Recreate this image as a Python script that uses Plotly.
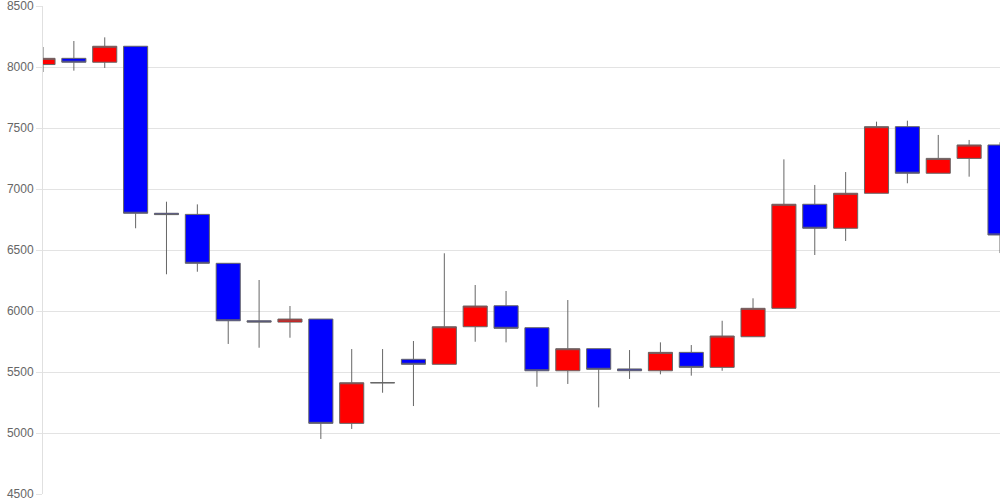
import plotly.graph_objects as go

idx = list(range(32))
opens = [8020, 8071, 8039, 8170, 6801, 6792, 6391, 5920, 5909, 5934, 5079, 5412,
         5604, 5563, 5871, 6043, 5863, 5510, 5691, 5525, 5510, 5661, 5538, 5789,
         6022, 6875, 6678, 6965, 7511, 7129, 7251, 7361]
highs = [8164, 8213, 8243, 8170, 6896, 6874, 6391, 6254, 6041, 5934, 5688, 5688,
         5754, 6473, 6213, 6164, 5863, 6090, 5691, 5680, 5743, 5721, 5920, 6104,
         7243, 7033, 7139, 7552, 7560, 7443, 7402, 7383]
lows = [7959, 7970, 7992, 6678, 6301, 6322, 5730, 5699, 5781, 4951, 5033, 5330,
        5221, 5563, 5748, 5743, 5379, 5402, 5210, 5443, 5481, 5470, 5510, 5789,
        6022, 6459, 6574, 6965, 7047, 7129, 7101, 6475]
closes = [8071, 8039, 8170, 6801, 6790, 6391, 5920, 5909, 5934, 5079, 5412, 5412,
          5563, 5871, 6041, 5858, 5510, 5691, 5522, 5510, 5661, 5538, 5795, 6022,
          6875, 6678, 6965, 7511, 7129, 7251, 7361, 6623]
y_ticks = [4500, 5000, 5500, 6000, 6500, 7000, 7500, 8000, 8500]

fig = go.Figure(go.Candlestick(
    x=idx, open=opens, high=highs, low=lows, close=closes,
    increasing=dict(fillcolor="#ff0000", line=dict(color="#666666", width=1)),
    decreasing=dict(fillcolor="#0000ff", line=dict(color="#666666", width=1)),
    whiskerwidth=0,
    hoverinfo="x+y",
))

fig.update_layout(
    width=1000, height=500,
    margin=dict(l=43, r=0, t=6, b=6, autoexpand=False),
    paper_bgcolor="white", plot_bgcolor="white",
    showlegend=False,
    boxgap=0.22, boxgroupgap=0,
    font=dict(family="Liberation Sans, Arial, sans-serif", size=12, color="#666666"),
    xaxis=dict(range=[0, 31], showgrid=False, showticklabels=False, zeroline=False,
               rangeslider=dict(visible=False), showline=False, ticks="",
               automargin=False),
    yaxis=dict(range=[4500, 8500], tickvals=y_ticks, ticktext=[str(v) for v in y_ticks],
               showgrid=True, gridcolor="#e3e3e3", gridwidth=1, zeroline=False,
               showline=True, linecolor="#e0e0e0", linewidth=1,
               ticks="outside", ticklen=6, tickcolor="#e3e3e3", tickwidth=1,
               ticklabelstandoff=0, ticklabeloverflow="allow",
               automargin=False,
               tickfont=dict(size=12, color="#666666")),
)

fig.write_html("out.html", config={"displayModeBar": False},
               post_script="document.body.style.margin='0';document.body.style.overflow='hidden';")
